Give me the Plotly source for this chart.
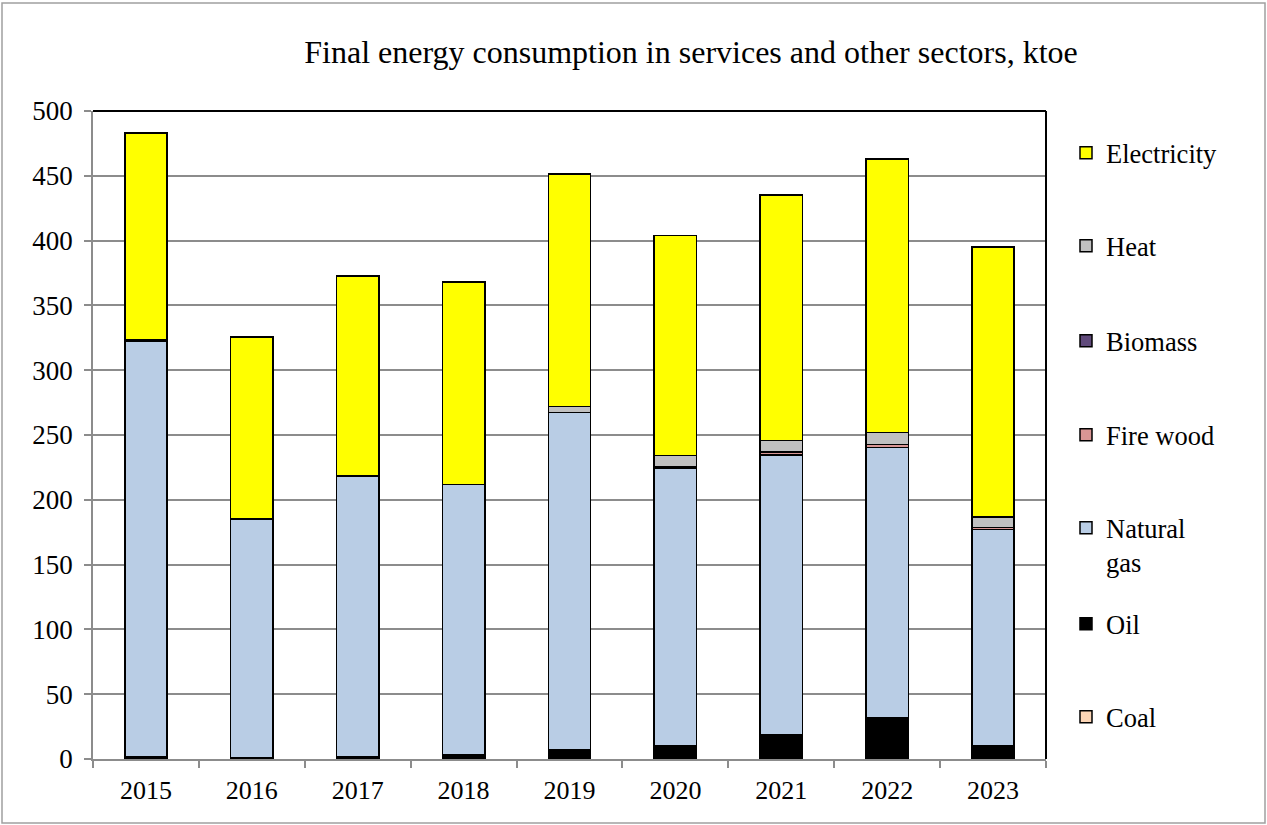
import plotly.graph_objects as go

years = ["2015", "2016", "2017", "2018", "2019", "2020", "2021", "2022", "2023"]
coal = [0, 0, 0, 0, 0, 0, 0, 0, 0]
oil = [1.5, 1, 1.5, 3.5, 7.5, 10, 19, 31.5, 10.5]
natural_gas = [321, 184, 217, 208.5, 260, 214, 215.5, 209, 166.5]
fire_wood = [0, 0, 0, 0, 0, 1.5, 2, 2, 1.5]
biomass = [0, 0, 0, 0, 0, 0.3, 0.3, 0.3, 0.3]
heat = [1, 0, 0, 0, 4.5, 8.2, 8.8, 9.2, 8]
electricity = [159.5, 140.5, 154, 156, 179.3, 170, 189.4, 211, 208.2]

series = [
    ("Coal", coal, "#FCD5B5"),
    ("Oil", oil, "#000000"),
    ("Natural<br>gas", natural_gas, "#B9CDE5"),
    ("Fire wood", fire_wood, "#D99694"),
    ("Biomass", biomass, "#604A7B"),
    ("Heat", heat, "#C0C0C0"),
    ("Electricity", electricity, "#FFFF00"),
]

FONT = '"Liberation Serif", "Times New Roman", Times, serif'
W, H = 1267, 825
L, R, T, B = 93, 1046, 111, 759
PW, PH = R - L, B - T

# legend item vertical centres (pixels)
leg_centres = {"Electricity": 153, "Heat": 246, "Biomass": 341, "Fire wood": 435,
               "Natural<br>gas": 545, "Oil": 624, "Coal": 717}

fig = go.Figure()
legend_layouts = {}
for i, (name, vals, col) in enumerate(series):
    lname = "legend" if i == 0 else f"legend{i+1}"
    fig.add_trace(go.Bar(
        x=years, y=vals, name=name,
        marker=dict(color=col, line=dict(color="#000000", width=1.5)),
        legend=lname,
    ))
    legend_layouts[lname] = dict(
        x=(1066 - L) / PW, xanchor="left",
        y=(B - leg_centres[name]) / PH, yanchor="middle",
        font=dict(family=FONT, size=26.5, color="#000000"),
        bgcolor="rgba(0,0,0,0)",
        valign="top", itemwidth=30,
    )

fig.update_layout(
    width=W, height=H,
    barmode="stack", bargap=0.6,
    plot_bgcolor="white", paper_bgcolor="white",
    margin=dict(l=L, r=W - R, t=T, b=H - B, autoexpand=False),
    font=dict(family=FONT, size=26, color="#000000"),
    title=dict(text="Final energy consumption in services and other sectors, ktoe",
               x=691 / W, xref="container", xanchor="center",
               y=1 - 52 / H, yref="container", yanchor="middle",
               font=dict(family=FONT, size=32, color="#000000")),
    showlegend=True,
    **legend_layouts,
)

fig.update_yaxes(range=[0, 500], dtick=50, showgrid=True, gridcolor="#8C8C8C", gridwidth=1.5,
                 showline=True, linecolor="#8C8C8C", linewidth=1.5,
                 ticks="outside", ticklen=7, tickcolor="#8C8C8C", tickwidth=1.5,
                 ticklabelstandoff=6,
                 zeroline=False, tickfont=dict(family=FONT, size=27, color="#000000"))
fig.update_xaxes(type="category", showgrid=False, showline=True, linecolor="#8C8C8C", linewidth=1.5,
                 ticks="outside", ticklen=7, tickcolor="#8C8C8C", tickwidth=1.5, tickson="boundaries",
                 ticklabelstandoff=7,
                 tickfont=dict(family=FONT, size=26, color="#000000"))

# plot-area top/right border and outer chart border
fig.add_shape(type="line", xref="paper", yref="paper", x0=0, x1=1, y0=1, y1=1,
              line=dict(color="#000000", width=2), layer="above")
fig.add_shape(type="line", xref="paper", yref="paper", x0=1, x1=1, y0=0, y1=1,
              line=dict(color="#000000", width=2), layer="above")
fig.add_shape(type="rect", xref="paper", yref="paper",
              x0=(2 - L) / PW, x1=(1265 - L) / PW, y0=(B - 823) / PH, y1=(B - 3) / PH,
              line=dict(color="#A0A0A0", width=1.5), fillcolor="rgba(0,0,0,0)", layer="above")

fig.write_html("out.html", config={"displayModeBar": False},
               post_script="document.body.style.margin='0';")
